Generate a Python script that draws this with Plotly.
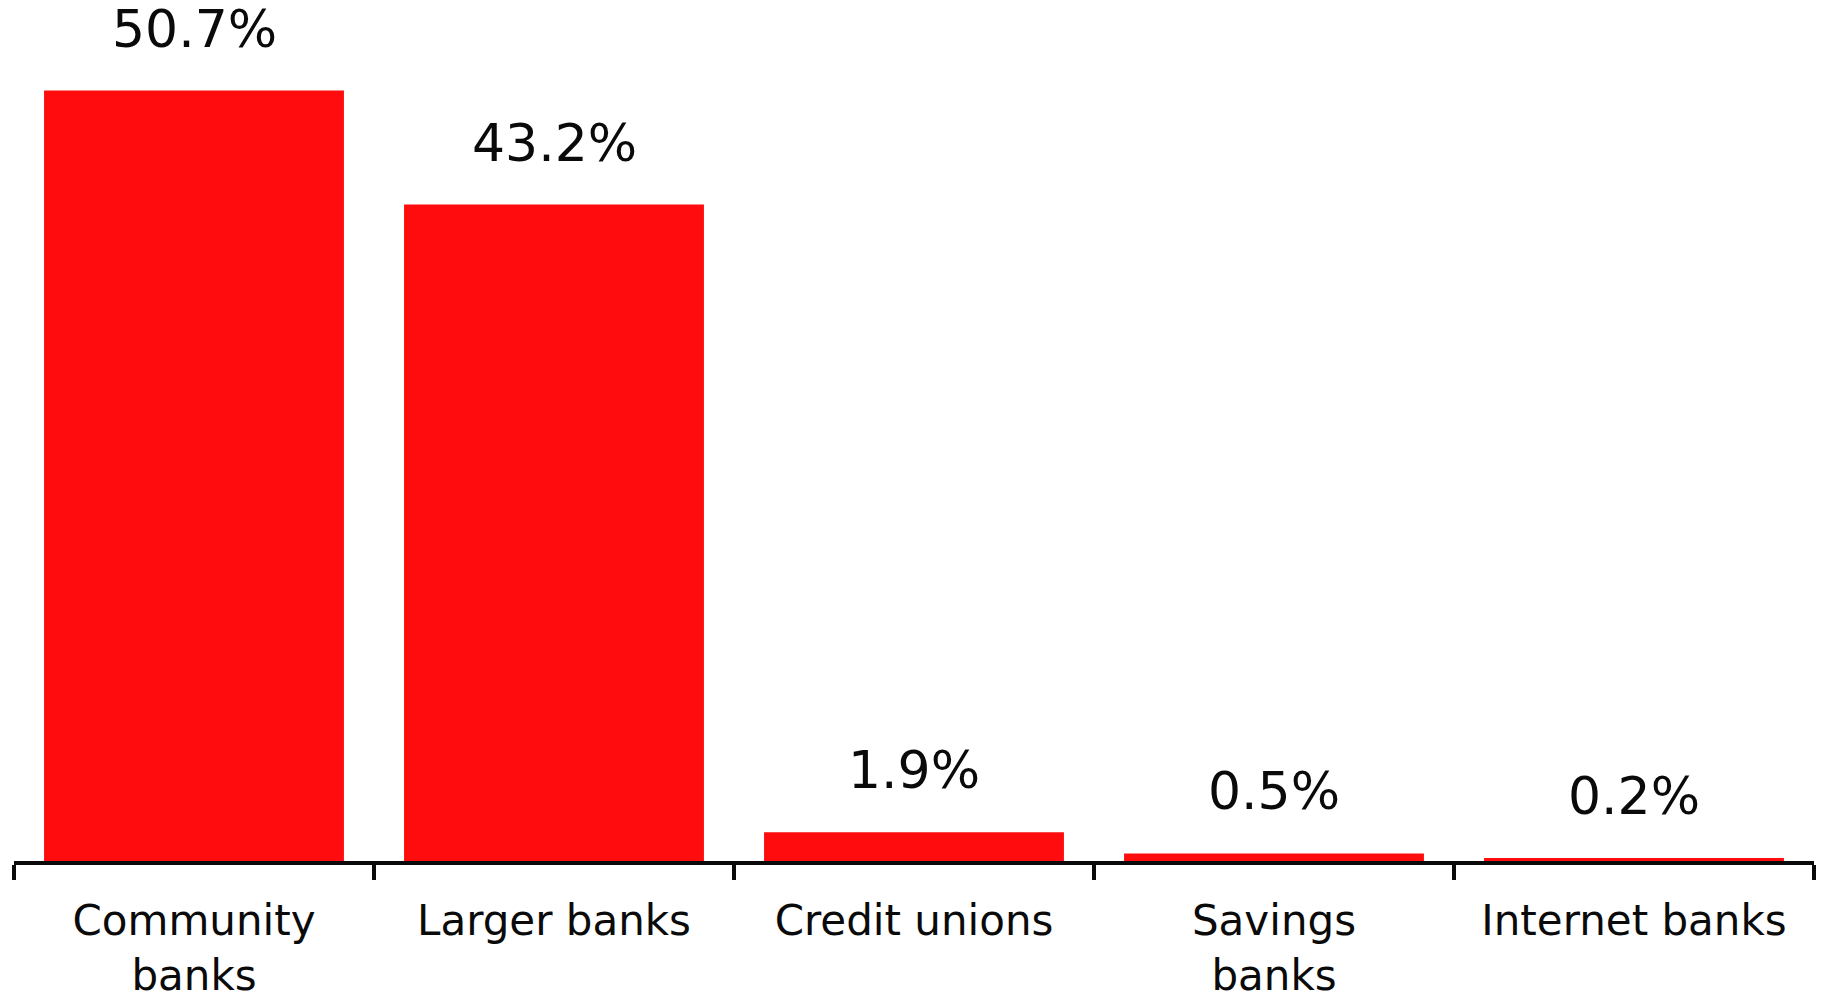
import plotly.graph_objects as go

categories = ["Community<br>banks", "Larger banks", "Credit unions", "Savings<br>banks", "Internet banks"]
values = [50.7, 43.2, 1.9, 0.5, 0.2]
value_labels = ["50.7%", "43.2%", "1.9%", "0.5%", "0.2%"]

FONT = "DejaVu Sans, Liberation Sans, Arial, sans-serif"

fig = go.Figure()
fig.add_trace(go.Bar(
    x=categories, y=values,
    marker=dict(color="#FE0C0E", line=dict(width=0)),
    hoverinfo="skip",
))

for c, v, t in zip(categories, values, value_labels):
    fig.add_annotation(
        x=c, y=v, text=t, showarrow=False,
        xanchor="center", yanchor="bottom", yshift=30,
        font=dict(family=FONT, size=52, color="#0a0a0a"),
    )

fig.update_layout(
    width=1825, height=995,
    margin=dict(l=14, r=11, t=10, b=134),
    paper_bgcolor="white", plot_bgcolor="white",
    bargap=0.167,
    showlegend=False,
    xaxis=dict(
        automargin=False,
        showline=True, linecolor="#0a0a0a", linewidth=4,
        ticks="outside", tickson="boundaries", ticklen=15, tickwidth=3.5, tickcolor="#0a0a0a",
        tickfont=dict(family=FONT, size=42, color="#0a0a0a"),
        ticklabelstandoff=20,
        showgrid=False, zeroline=False,
    ),
    yaxis=dict(
        range=[0, 56], visible=False, showgrid=False, zeroline=False,
    ),
)

fig.write_html("out.html")
